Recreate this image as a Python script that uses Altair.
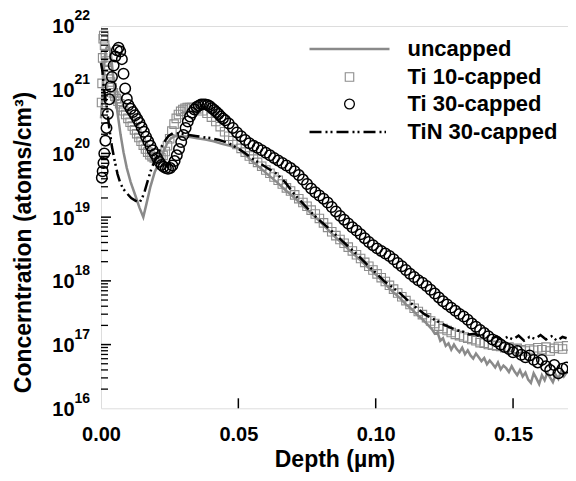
import altair as alt
import pandas as pd

FONT = "Liberation Sans"

# ---------------- data (depth in um, log10 of concentration in atoms/cm3) ----------------
uncapped_depth = [0.0000, 0.0005, 0.0010, 0.0015, 0.0020, 0.0028, 0.0035, 0.0041, 0.0047, 0.0053,
                  0.0062, 0.0071, 0.0082, 0.0094, 0.0108, 0.0125, 0.0140, 0.0154, 0.0165, 0.0180,
                  0.0195, 0.0210, 0.0225, 0.0240, 0.0255, 0.0270, 0.0290, 0.0320, 0.0350, 0.0380,
                  0.0410, 0.0440, 0.0470, 0.0500, 0.0520, 0.0550, 0.0580, 0.0610, 0.0640, 0.0670,
                  0.0700, 0.0730, 0.0760, 0.0790, 0.0820, 0.0850, 0.0880, 0.0910, 0.0940, 0.0970,
                  0.1000, 0.1030, 0.1060, 0.1090, 0.1110, 0.1130, 0.1150, 0.1170, 0.1190, 0.1205,
                  0.1215, 0.1225, 0.1235, 0.1245, 0.1255, 0.1265, 0.1275, 0.1285, 0.1295, 0.1305,
                  0.1315, 0.1325, 0.1335, 0.1345, 0.1355, 0.1365, 0.1375, 0.1385, 0.1395, 0.1405,
                  0.1415, 0.1425, 0.1435, 0.1445, 0.1455, 0.1465, 0.1475, 0.1485, 0.1495, 0.1505,
                  0.1515, 0.1525, 0.1535, 0.1545, 0.1555, 0.1565, 0.1575, 0.1585, 0.1595, 0.1605,
                  0.1615, 0.1625, 0.1635, 0.1645, 0.1655, 0.1665, 0.1675, 0.1685, 0.1695]
uncapped_log = [20.55, 20.90, 21.30, 21.55, 21.66, 21.69, 21.60, 21.35, 21.10, 20.87,
                20.58, 20.30, 20.02, 19.77, 19.55, 19.34, 19.15, 19.00, 19.20, 19.48,
                19.70, 19.85, 20.00, 20.15, 20.24, 20.27, 20.27, 20.26, 20.24, 20.22,
                20.19, 20.15, 20.12, 20.08, 20.00, 19.88, 19.77, 19.66, 19.55, 19.43,
                19.32, 19.20, 19.08, 18.96, 18.83, 18.70, 18.58, 18.46, 18.34, 18.22,
                18.10, 17.97, 17.84, 17.72, 17.63, 17.56, 17.47, 17.40, 17.31, 17.24,
                17.17, 17.19, 17.06, 17.10, 16.98, 17.02, 16.92, 17.00, 16.93, 16.88,
                16.95, 16.85, 16.91, 16.83, 16.78, 16.86, 16.80, 16.74, 16.79, 16.69,
                16.75, 16.70, 16.64, 16.72, 16.61, 16.67, 16.63, 16.57, 16.66, 16.58,
                16.52, 16.60, 16.50, 16.56, 16.45, 16.40, 16.55, 16.47, 16.38, 16.52,
                16.44, 16.56, 16.48, 16.41, 16.53, 16.46, 16.58, 16.50, 16.56]

ti10_depth = [0.0002, 0.0004, 0.0006, 0.0008, 0.0010, 0.0013, 0.0016, 0.0019, 0.0022, 0.0026,
              0.0030, 0.0035, 0.0040, 0.0045, 0.0050, 0.0056, 0.0062, 0.0068, 0.0075, 0.0082,
              0.0090, 0.0098, 0.0106, 0.0114, 0.0122, 0.0130, 0.0138, 0.0146, 0.0154, 0.0162,
              0.0170, 0.0178, 0.0186, 0.0194, 0.0202, 0.0210, 0.0218, 0.0226, 0.0234, 0.0242,
              0.0250, 0.0258, 0.0266, 0.0274, 0.0282, 0.0290, 0.0298, 0.0306, 0.0314, 0.0322,
              0.0330, 0.0338, 0.0346, 0.0354, 0.0370, 0.0386, 0.0402, 0.0418, 0.0434, 0.0450,
              0.0465, 0.0480, 0.0495, 0.0510, 0.0525, 0.0540, 0.0555, 0.0570, 0.0585, 0.0600,
              0.0615, 0.0630, 0.0645, 0.0660, 0.0675, 0.0690, 0.0705, 0.0720, 0.0735, 0.0750,
              0.0765, 0.0780, 0.0795, 0.0810, 0.0825, 0.0840, 0.0855, 0.0870, 0.0885, 0.0900,
              0.0915, 0.0930, 0.0945, 0.0960, 0.0975, 0.0990, 0.1005, 0.1020, 0.1035, 0.1050,
              0.1065, 0.1080, 0.1095, 0.1110, 0.1125, 0.1140, 0.1155, 0.1170, 0.1185, 0.1200,
              0.1215, 0.1230, 0.1245, 0.1260, 0.1275, 0.1290, 0.1305, 0.1320, 0.1335, 0.1350,
              0.1365, 0.1380, 0.1395, 0.1410, 0.1425, 0.1440, 0.1455, 0.1470, 0.1485, 0.1500,
              0.1515, 0.1530, 0.1545, 0.1560, 0.1575, 0.1590, 0.1605, 0.1620, 0.1635, 0.1650,
              0.1665, 0.1680, 0.1695]
ti10_log = [20.80, 21.10, 21.50, 21.80, 21.85, 21.70, 21.55, 21.45, 21.38, 21.30,
            21.22, 21.12, 21.03, 20.95, 20.90, 20.86, 20.82, 20.78, 20.73, 20.67,
            20.61, 20.55, 20.49, 20.43, 20.37, 20.31, 20.25, 20.19, 20.13, 20.07,
            20.02, 19.98, 19.95, 19.93, 19.92, 19.92, 19.93, 19.97, 20.03, 20.12,
            20.23, 20.35, 20.46, 20.55, 20.61, 20.66, 20.69, 20.71, 20.72, 20.72,
            20.72, 20.71, 20.70, 20.70, 20.67, 20.63, 20.57, 20.50, 20.42, 20.34,
            20.27, 20.20, 20.14, 20.08, 20.02, 19.96, 19.91, 19.86, 19.80, 19.74,
            19.69, 19.63, 19.58, 19.52, 19.46, 19.41, 19.35, 19.29, 19.23, 19.17,
            19.11, 19.05, 18.98, 18.91, 18.84, 18.77, 18.71, 18.65, 18.59, 18.53,
            18.47, 18.41, 18.35, 18.29, 18.23, 18.17, 18.11, 18.05, 17.99, 17.93,
            17.87, 17.81, 17.75, 17.69, 17.63, 17.57, 17.52, 17.47, 17.42, 17.37,
            17.33, 17.29, 17.25, 17.22, 17.19, 17.16, 17.14, 17.12, 17.10, 17.08,
            17.06, 17.03, 17.02, 17.00, 16.99, 16.98, 16.97, 16.95, 16.96, 16.93,
            16.94, 16.92, 16.90, 16.93, 16.91, 16.95, 16.92, 16.96, 16.90, 16.94,
            16.97, 16.93, 16.98]

ti30_depth = [0.0003, 0.0006, 0.0009, 0.0012, 0.0016, 0.0020, 0.0025, 0.0030, 0.0035, 0.0040,
              0.0046, 0.0052, 0.0058, 0.0064, 0.0070, 0.0076, 0.0082, 0.0088, 0.0094, 0.0100,
              0.0108, 0.0116, 0.0124, 0.0132, 0.0140, 0.0148, 0.0156, 0.0164, 0.0172, 0.0180,
              0.0188, 0.0196, 0.0204, 0.0212, 0.0220, 0.0228, 0.0236, 0.0244, 0.0252, 0.0260,
              0.0268, 0.0276, 0.0284, 0.0292, 0.0300, 0.0308, 0.0316, 0.0324, 0.0332, 0.0340,
              0.0348, 0.0356, 0.0364, 0.0372, 0.0380, 0.0388, 0.0396, 0.0404, 0.0412, 0.0420,
              0.0428, 0.0436, 0.0444, 0.0452, 0.0465, 0.0480, 0.0495, 0.0510, 0.0525, 0.0540,
              0.0555, 0.0570, 0.0585, 0.0600, 0.0615, 0.0630, 0.0645, 0.0660, 0.0675, 0.0690,
              0.0705, 0.0720, 0.0735, 0.0750, 0.0765, 0.0780, 0.0795, 0.0810, 0.0825, 0.0840,
              0.0855, 0.0870, 0.0885, 0.0900, 0.0915, 0.0930, 0.0945, 0.0960, 0.0975, 0.0990,
              0.1005, 0.1020, 0.1035, 0.1050, 0.1065, 0.1080, 0.1095, 0.1110, 0.1125, 0.1140,
              0.1155, 0.1170, 0.1185, 0.1200, 0.1215, 0.1230, 0.1245, 0.1260, 0.1275, 0.1290,
              0.1305, 0.1320, 0.1335, 0.1350, 0.1365, 0.1380, 0.1395, 0.1410, 0.1425, 0.1440,
              0.1455, 0.1470, 0.1485, 0.1500, 0.1515, 0.1530, 0.1545, 0.1560, 0.1575, 0.1590,
              0.1605, 0.1620, 0.1635, 0.1650, 0.1665, 0.1680, 0.1695]
ti30_log = [19.62, 19.72, 19.85, 20.00, 20.20, 20.40, 20.62, 20.85, 21.05, 21.20,
            21.38, 21.52, 21.62, 21.66, 21.60, 21.48, 21.25, 21.02, 20.86, 20.76,
            20.70, 20.65, 20.60, 20.54, 20.48, 20.41, 20.34, 20.26, 20.19, 20.12,
            20.05, 19.99, 19.93, 19.87, 19.82, 19.79, 19.77, 19.76, 19.77, 19.81,
            19.88, 19.97, 20.07, 20.18, 20.29, 20.40, 20.50, 20.58, 20.64, 20.69,
            20.73, 20.75, 20.77, 20.77, 20.77, 20.76, 20.74, 20.71, 20.68, 20.65,
            20.62, 20.58, 20.55, 20.52, 20.47, 20.40, 20.33, 20.27, 20.21, 20.16,
            20.12, 20.09, 20.05, 20.01, 19.97, 19.93, 19.89, 19.85, 19.81, 19.77,
            19.72, 19.66, 19.59, 19.52, 19.45, 19.39, 19.34, 19.29, 19.23, 19.16,
            19.09, 19.02, 18.96, 18.90, 18.84, 18.79, 18.73, 18.67, 18.61, 18.56,
            18.51, 18.47, 18.43, 18.39, 18.34, 18.28, 18.23, 18.17, 18.11, 18.06,
            18.01, 17.97, 17.92, 17.86, 17.80, 17.74, 17.68, 17.63, 17.58, 17.53,
            17.48, 17.44, 17.39, 17.33, 17.28, 17.23, 17.18, 17.13, 17.08, 17.05,
            17.00, 16.96, 16.93, 16.88, 16.90, 16.84, 16.80, 16.83, 16.76, 16.72,
            16.76, 16.66, 16.60, 16.68, 16.55, 16.62, 16.64]

tin_depth = [0.0000, 0.0005, 0.0010, 0.0015, 0.0020, 0.0030, 0.0040, 0.0050, 0.0060, 0.0070,
             0.0080, 0.0093, 0.0110, 0.0125, 0.0140, 0.0150, 0.0160, 0.0170, 0.0185, 0.0200,
             0.0215, 0.0230, 0.0245, 0.0262, 0.0290, 0.0320, 0.0350, 0.0380, 0.0400, 0.0430,
             0.0460, 0.0490, 0.0520, 0.0550, 0.0580, 0.0610, 0.0640, 0.0670, 0.0700, 0.0730,
             0.0760, 0.0790, 0.0820, 0.0850, 0.0880, 0.0910, 0.0940, 0.0970, 0.1000, 0.1030,
             0.1060, 0.1090, 0.1120, 0.1150, 0.1180, 0.1210, 0.1240, 0.1270, 0.1300, 0.1320,
             0.1340, 0.1360, 0.1380, 0.1400, 0.1420, 0.1440, 0.1460, 0.1480, 0.1500, 0.1520,
             0.1540, 0.1560, 0.1580, 0.1600, 0.1620, 0.1640, 0.1660, 0.1680, 0.1695]
tin_log = [21.42, 21.30, 21.05, 20.88, 20.78, 20.40, 20.10, 19.88, 19.68, 19.54,
           19.45, 19.38, 19.30, 19.26, 19.23, 19.30, 19.42, 19.57, 19.78, 19.92,
           20.07, 20.18, 20.27, 20.32, 20.31, 20.29, 20.27, 20.25, 20.24, 20.21,
           20.17, 20.10, 20.02, 19.92, 19.84, 19.76, 19.68, 19.55, 19.38, 19.24,
           19.10, 18.97, 18.86, 18.74, 18.62, 18.50, 18.38, 18.25, 18.13, 18.00,
           17.90, 17.80, 17.68, 17.57, 17.47, 17.40, 17.33, 17.27, 17.22, 17.20,
           17.16, 17.17, 17.12, 17.15, 17.09, 17.13, 17.07, 17.12, 17.08, 17.14,
           17.06, 17.12, 17.09, 17.15, 17.08, 17.13, 17.06, 17.12, 17.10]

decades = [16, 17, 18, 19, 20, 21, 22]
x_ticks = [0.05, 0.10, 0.15]
legend_labels = ["uncapped", "Ti 10-capped", "Ti 30-capped", "TiN 30-capped"]

W, H = 467, 382.3


def frame(depth, logs):
    return pd.DataFrame({"depth": depth, "conc": [10.0 ** v for v in logs]})


xs = alt.Scale(domain=[0, 0.17], nice=False, zero=False)
ys = alt.Scale(type="log", domain=[1e16, 1e22], nice=False)

X = alt.X("depth:Q", scale=xs, axis=alt.Axis(
    values=[0, 0.05, 0.10, 0.15], format=".2f", ticks=False, tickSize=0, domain=False, grid=False,
    labelFont=FONT, labelFontSize=20, labelFontWeight="bold", labelColor="black",
    labelPadding=16, labelFlush=False,
    title="Depth (µm)", titleFont=FONT, titleFontSize=23, titleFontWeight="bold",
    titleColor="black", titleY=58.7, titleBaseline="alphabetic"))
Y = alt.Y("conc:Q", scale=ys, axis=alt.Axis(
    labels=False, ticks=False, tickSize=0, domain=False, grid=False,
    title="Concerntration (atoms/cm³)", titleFont=FONT, titleFontSize=23, titleFontWeight="bold",
    titleColor="black", titleX=-78, titleY=216, titleAngle=270, titleAlign="center",
    titleBaseline="middle"))

ti10 = alt.Chart(frame(ti10_depth, ti10_log)).mark_point(
    shape="square", size=72, filled=False, color="#8c8c8c", strokeWidth=1.1, opacity=1
).encode(x=X, y=Y)
unc = alt.Chart(frame(uncapped_depth, uncapped_log)).mark_line(
    color="#8a8a8a", strokeWidth=2.5
).encode(x=X, y=Y)
ti30 = alt.Chart(frame(ti30_depth, ti30_log)).mark_point(
    shape="circle", size=110, filled=False, color="black", strokeWidth=1.5, opacity=1
).encode(x=X, y=Y)
tin = alt.Chart(frame(tin_depth, tin_log)).mark_line(
    color="black", strokeWidth=2.5, strokeDash=[12, 4, 2, 3, 2, 4]
).encode(x=X, y=Y)

# inward ticks
major_y = pd.DataFrame({"v": [10.0 ** d for d in decades[1:-1]]})
minor_y = pd.DataFrame({"v": [k * 10.0 ** d for d in decades[:-1] for k in range(2, 10)]})
ytick_major = alt.Chart(major_y).mark_rule(color="black", strokeWidth=1.5).encode(
    y=alt.Y("v:Q", scale=ys), x=alt.value(0), x2=alt.value(10))
ytick_minor = alt.Chart(minor_y).mark_rule(color="black", strokeWidth=1.3).encode(
    y=alt.Y("v:Q", scale=ys), x=alt.value(0), x2=alt.value(7))
xtick = alt.Chart(pd.DataFrame({"t": x_ticks})).mark_rule(color="black", strokeWidth=1.5).encode(
    x=alt.X("t:Q", scale=xs), y=alt.value(H), y2=alt.value(H - 10))

# y tick labels 10^n
lab_df = pd.DataFrame({"v": [10.0 ** d for d in decades], "base": ["10"] * len(decades),
                       "exp": [str(d) for d in decades]})
ylab_base = alt.Chart(lab_df).mark_text(
    align="right", baseline="middle", font=FONT, fontSize=20, fontWeight="bold", color="black", dy=1.5
).encode(y=alt.Y("v:Q", scale=ys), x=alt.value(-26.5), text="base:N")
ylab_exp = alt.Chart(lab_df).mark_text(
    align="left", baseline="middle", font=FONT, fontSize=14, fontWeight="bold", color="black", dy=-9.5
).encode(y=alt.Y("v:Q", scale=ys), x=alt.value(-26.5), text="exp:N")

# legend
one = pd.DataFrame({"a": [0]})
leg_y = [23, 51, 78, 106]
leg = [
    alt.Chart(one).mark_rule(color="#8a8a8a", strokeWidth=2.5).encode(
        x=alt.value(208.5), x2=alt.value(288.5), y=alt.value(leg_y[0])),
    alt.Chart(one).mark_point(shape="square", size=72, filled=False, color="#8c8c8c",
                              strokeWidth=1.1, opacity=1).encode(
        x=alt.value(248.5), y=alt.value(leg_y[1])),
    alt.Chart(one).mark_point(shape="circle", size=95, filled=False, color="black",
                              strokeWidth=1.3, opacity=1).encode(
        x=alt.value(248.5), y=alt.value(leg_y[2])),
    alt.Chart(one).mark_rule(color="black", strokeWidth=2.5, strokeDash=[12, 4, 2, 3, 2, 4]).encode(
        x=alt.value(208.5), x2=alt.value(285), y=alt.value(leg_y[3])),
]
for lbl, yy in zip(legend_labels, leg_y):
    leg.append(alt.Chart(one).mark_text(
        text=lbl, align="left", baseline="middle", font=FONT, fontSize=22, fontWeight="bold",
        color="black").encode(x=alt.value(306.5), y=alt.value(yy)))

chart = alt.layer(
    ti10, unc, ti30, tin, ytick_major, ytick_minor, xtick, ylab_base, ylab_exp, *leg
).properties(
    width=W, height=H,
    autosize=alt.AutoSizeParams(type="none"),
    padding={"left": 93, "top": 18, "right": 0, "bottom": 64},
).configure_view(stroke="black", strokeWidth=1.5).configure(background="white")

chart.save("out.html", embed_options={"renderer": "svg", "actions": False})
